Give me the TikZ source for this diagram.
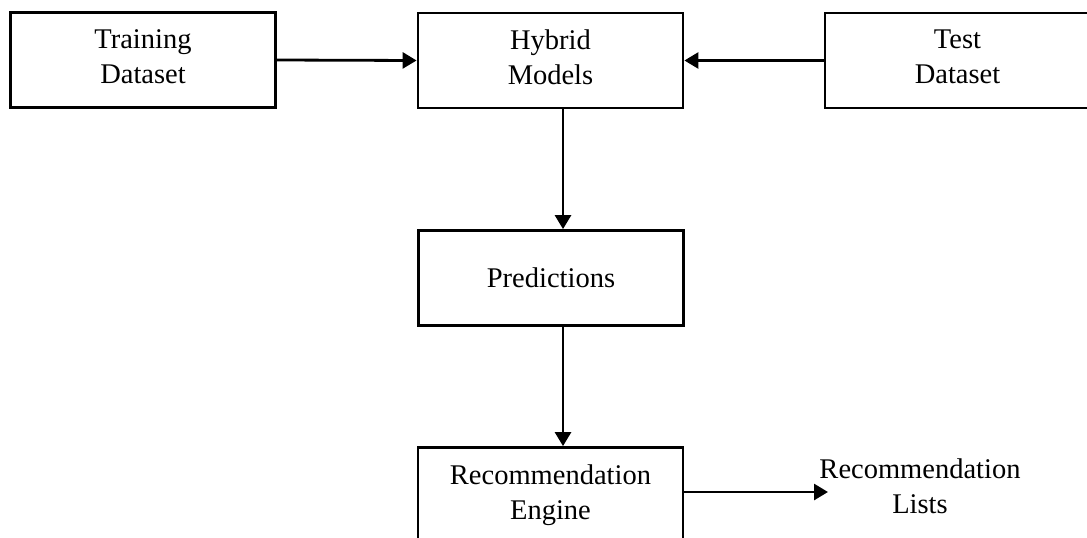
\documentclass[tikz,border=0pt]{standalone}
\usepackage{fontspec}
\setmainfont{Liberation Serif}
\usetikzlibrary{arrows.meta}
\begin{document}
\begin{tikzpicture}[x=1pt,y=-1pt,
  box/.style={draw, line width=2.8pt, minimum width=265pt, minimum height=95pt,
    inner sep=0pt, align=center, font=\fontsize{28.5}{35}\selectfont},
  toprow/.style={box, text depth=7pt},
  lbl/.style={inner sep=0pt, align=center, font=\fontsize{28.5}{35}\selectfont},
  link/.style={line width=2.8pt, -{Triangle[length=14pt,width=16pt]}}]
\useasboundingbox (0,0) rectangle (1087,538);
\clip (0,0) rectangle (1087,538);
% boxes
\node[toprow] (train) at (143,60) {Training\\Dataset};
\node[toprow] (hybrid) at (550.5,60.5) {Hybrid\\Models};
\node[toprow] (test) at (957.5,60.5) {Test\\Dataset};
\node[box] (pred) at (551,278) {Predictions};
\node[box] (engine) at (550.5,495) {Recommendation\\Engine};
\node[lbl] (lists) at (920,486) {Recommendation\\Lists};
% connector helpers
\coordinate (vx) at (563,0);
\coordinate (out) at (828,492);
% connectors
\draw[link] (train.east) -- (hybrid.west);
\draw[link] (test.west) -- (hybrid.east);
\draw[link] (hybrid.south -| vx) -- (pred.north -| vx);
\draw[link] (pred.south -| vx) -- (engine.north -| vx);
\draw[link] (engine.east |- out) -- (out);
\end{tikzpicture}
\end{document}
